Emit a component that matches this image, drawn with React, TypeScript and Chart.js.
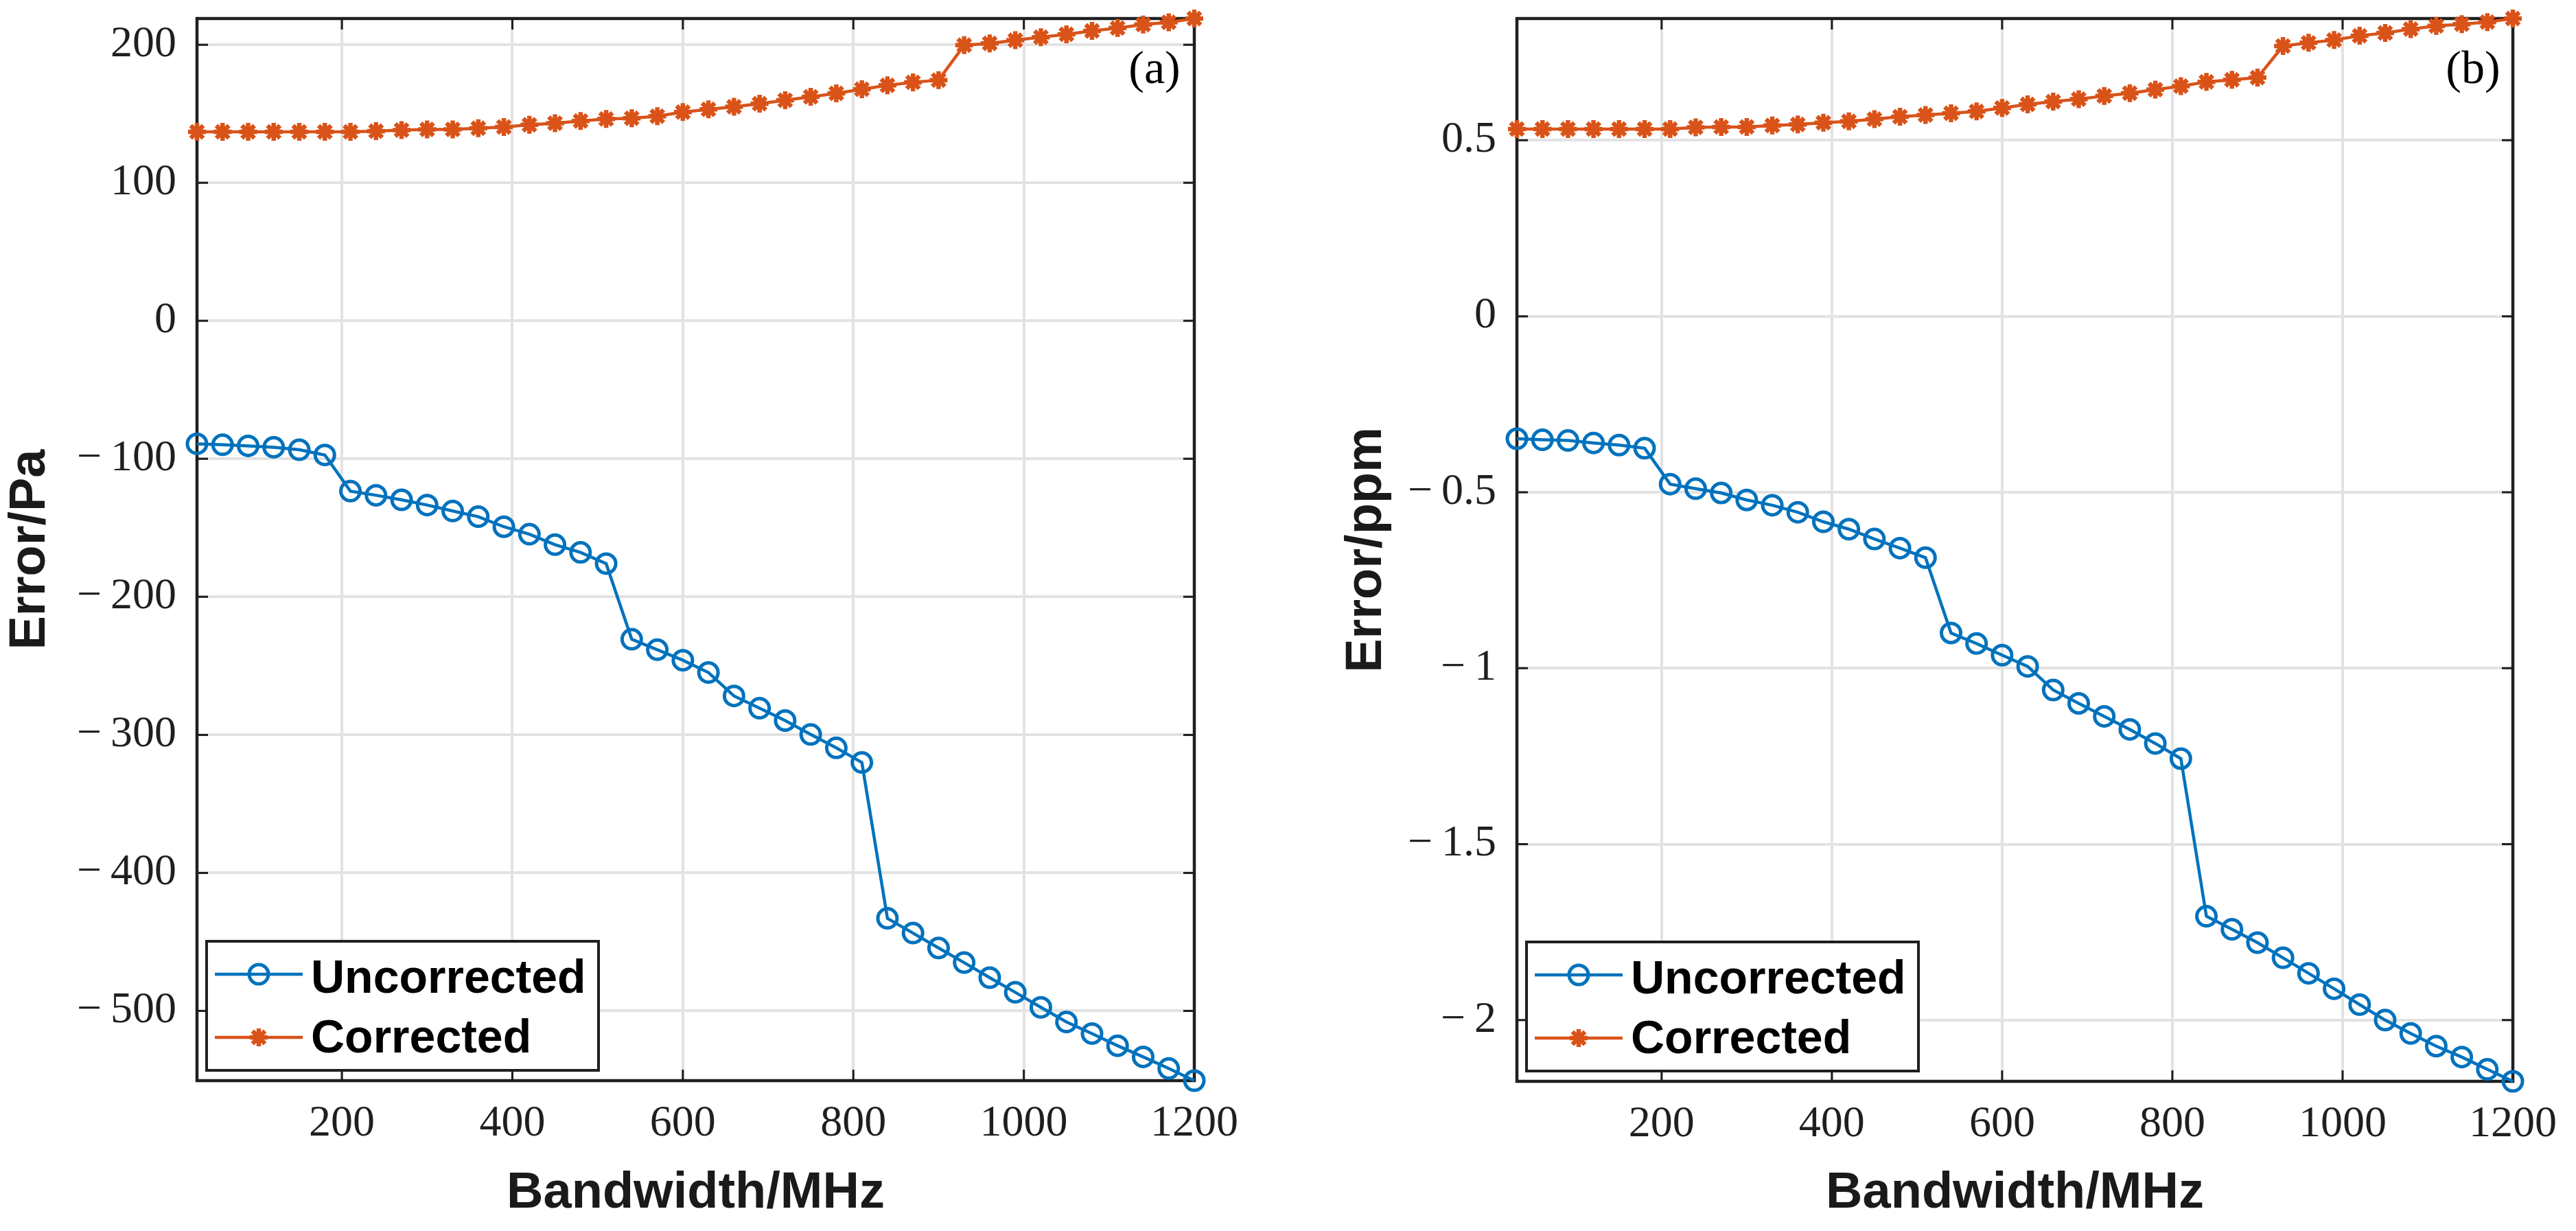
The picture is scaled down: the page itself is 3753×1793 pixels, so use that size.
import React, { useEffect, useRef } from 'react';
import { Chart, registerables } from 'chart.js';

Chart.register(...registerables);

// Sweep bandwidth (MHz)
const bandwidthMHz = [
  30, 60, 90, 120, 150, 180, 210, 240, 270, 300,
  330, 360, 390, 420, 450, 480, 510, 540, 570, 600,
  630, 660, 690, 720, 750, 780, 810, 840, 870, 900,
  930, 960, 990, 1020, 1050, 1080, 1110, 1140, 1170, 1200,
];

// (a) pressure error, Pa
const pressureUncorrected = [
  -89.1, -89.8, -90.6, -91.6, -93.4, -97.2, -123.4, -126.4, -129.7, -133.5,
  -137.8, -141.9, -149.2, -154.6, -162.2, -167.8, -175.9, -230.7, -238.3, -245.9,
  -254.8, -271.8, -280.7, -289.6, -299.7, -309.4, -320.0, -432.9, -443.6, -454.4,
  -465.0, -475.9, -486.5, -497.4, -508.0, -516.4, -525.2, -533.3, -541.7, -550.5,
];
const pressureCorrected = [
  136.9, 136.9, 136.9, 136.9, 136.9, 136.9, 136.9, 137.4, 138.2, 138.7,
  138.7, 139.5, 140.4, 142.0, 143.2, 144.8, 146.2, 146.8, 148.2, 151.2,
  153.2, 155.1, 157.3, 159.8, 162.3, 164.8, 167.8, 170.6, 172.8, 174.4,
  199.7, 201.0, 203.3, 205.5, 207.6, 210.0, 212.1, 214.6, 216.3, 219.0,
];

// (b) relative error, ppm
const ppmUncorrected = [
  -0.348, -0.351, -0.353, -0.360, -0.366, -0.375, -0.477, -0.490, -0.502, -0.522,
  -0.537, -0.557, -0.584, -0.605, -0.633, -0.659, -0.686, -0.900, -0.930, -0.963,
  -0.995, -1.062, -1.100, -1.137, -1.174, -1.214, -1.257, -1.705, -1.742, -1.780,
  -1.823, -1.867, -1.911, -1.956, -2.000, -2.038, -2.074, -2.105, -2.140, -2.174,
];
const ppmCorrected = [
  0.532, 0.532, 0.532, 0.532, 0.532, 0.532, 0.532, 0.537, 0.538, 0.538,
  0.542, 0.545, 0.550, 0.554, 0.560, 0.567, 0.572, 0.577, 0.582, 0.592,
  0.602, 0.610, 0.617, 0.626, 0.634, 0.644, 0.654, 0.666, 0.672, 0.678,
  0.768, 0.777, 0.785, 0.797, 0.805, 0.816, 0.825, 0.830, 0.836, 0.846,
];

const bandwidthTicks = [200, 400, 600, 800, 1000, 1200];
const pressureTicks = [-500, -400, -300, -200, -100, 0, 100, 200];
const ppmTicks = [-2, -1.5, -1, -0.5, 0, 0.5];

const seriesLabels = ['Uncorrected', 'Corrected'];

const BLUE = '#0072BD';
const ORANGE = '#D95319';
const INK = '#1f1f1f';
const GRID = '#e2e2e2';
const SERIF = '"Liberation Serif", "Times New Roman", serif';
const SANS = '"Liberation Sans", Arial, sans-serif';
const TICK_LEN = 16;

const fmtTick = (v: number) =>
  v < 0 ? '\u2212\u2009' + String(Math.abs(v)) : String(v);

function drawMarker(
  ctx: CanvasRenderingContext2D,
  style: string,
  x: number,
  y: number,
  r: number,
  lw: number,
  color: string
) {
  ctx.save();
  ctx.strokeStyle = color;
  ctx.lineWidth = lw;
  ctx.beginPath();
  if (style === 'circle') {
    ctx.arc(x, y, r, 0, Math.PI * 2);
  } else {
    for (let k = 0; k < 4; k++) {
      const a = (k * Math.PI) / 4;
      ctx.moveTo(x - r * Math.cos(a), y - r * Math.sin(a));
      ctx.lineTo(x + r * Math.cos(a), y + r * Math.sin(a));
    }
  }
  ctx.stroke();
  ctx.restore();
}

// Axes box with inward ticks on all four sides, legend box and panel tag.
const framePlugin = {
  id: 'frame',
  beforeDatasetsDraw(chart: any) {
    const { ctx, chartArea: ca, scales } = chart;
    ctx.save();
    ctx.strokeStyle = INK;
    ctx.lineWidth = 3;
    ctx.beginPath();
    scales.x.ticks.forEach((t: any) => {
      const px = scales.x.getPixelForValue(t.value);
      ctx.moveTo(px, ca.bottom);
      ctx.lineTo(px, ca.bottom - TICK_LEN);
      ctx.moveTo(px, ca.top);
      ctx.lineTo(px, ca.top + TICK_LEN);
    });
    scales.y.ticks.forEach((t: any) => {
      const py = scales.y.getPixelForValue(t.value);
      ctx.moveTo(ca.left, py);
      ctx.lineTo(ca.left + TICK_LEN, py);
      ctx.moveTo(ca.right, py);
      ctx.lineTo(ca.right - TICK_LEN, py);
    });
    ctx.stroke();
    ctx.lineWidth = 4.5;
    ctx.strokeRect(ca.left, ca.top, ca.right - ca.left, ca.bottom - ca.top);
    ctx.restore();
  },
  afterDraw(chart: any, _args: any, opts: any) {
    const { ctx, chartArea: ca } = chart;
    const bw = 571;
    const bh = 188;
    const bx = ca.left + 14;
    const by = ca.bottom - 15 - bh;
    ctx.save();
    ctx.fillStyle = '#ffffff';
    ctx.fillRect(bx, by, bw, bh);
    ctx.lineWidth = 4;
    ctx.strokeStyle = INK;
    ctx.strokeRect(bx, by, bw, bh);
    chart.data.datasets.forEach((ds: any, i: number) => {
      const ly = by + 48 + i * 92;
      const ty = by + 56 + i * 87;
      ctx.strokeStyle = ds.borderColor;
      ctx.lineWidth = ds.borderWidth;
      ctx.beginPath();
      ctx.moveTo(bx + 12, ly);
      ctx.lineTo(bx + 140, ly);
      ctx.stroke();
      drawMarker(ctx, ds.pointStyle, bx + 76, ly, ds.pointRadius, ds.pointBorderWidth, ds.borderColor);
      ctx.fillStyle = '#000000';
      ctx.font = `bold 68px ${SANS}`;
      ctx.textAlign = 'left';
      ctx.textBaseline = 'middle';
      ctx.fillText(ds.label, bx + 152, ty);
    });
    ctx.fillStyle = '#000000';
    ctx.font = `68px ${SERIF}`;
    ctx.textAlign = 'center';
    ctx.textBaseline = 'middle';
    ctx.fillText(opts.tag, ca.right - 58, ca.top + 76);
    ctx.restore();
  },
};

type PanelSpec = {
  padding: { left: number; right: number; top: number; bottom: number };
  yWidth: number;
  xHeight: number;
  yTitle: string;
  uncorrected: number[];
  corrected: number[];
  yTicks: number[];
  tag: string;
};

function buildConfig(p: PanelSpec): any {
  const all = [...p.uncorrected, ...p.corrected];
  return {
    type: 'line',
    data: {
      datasets: [
        {
          label: seriesLabels[0],
          data: bandwidthMHz.map((x, i) => ({ x, y: p.uncorrected[i] })),
          borderColor: BLUE,
          backgroundColor: 'rgba(0,0,0,0)',
          borderWidth: 4.5,
          pointStyle: 'circle',
          pointRadius: 14,
          pointBorderWidth: 5,
          pointBorderColor: BLUE,
          pointBackgroundColor: 'rgba(0,0,0,0)',
          clip: false,
        },
        {
          label: seriesLabels[1],
          data: bandwidthMHz.map((x, i) => ({ x, y: p.corrected[i] })),
          borderColor: ORANGE,
          backgroundColor: 'rgba(0,0,0,0)',
          borderWidth: 4.5,
          pointStyle: 'star',
          pointRadius: 13,
          pointBorderWidth: 6.5,
          pointBorderColor: ORANGE,
          pointBackgroundColor: ORANGE,
          clip: false,
        },
      ],
    },
    options: {
      responsive: false,
      animation: false,
      events: [],
      layout: { padding: p.padding },
      plugins: {
        legend: { display: false },
        tooltip: { enabled: false },
        frame: { tag: p.tag },
      },
      scales: {
        x: {
          type: 'linear',
          min: bandwidthMHz[0],
          max: bandwidthMHz[bandwidthMHz.length - 1],
          afterBuildTicks: (s: any) => {
            s.ticks = bandwidthTicks.map((v) => ({ value: v }));
          },
          afterFit: (s: any) => {
            s.height = p.xHeight;
            s.paddingLeft = 0;
            s.paddingRight = 0;
            s.paddingTop = 0;
            s.paddingBottom = 0;
          },
          grid: { color: GRID, lineWidth: 4, drawTicks: false },
          border: { display: false },
          ticks: {
            autoSkip: false,
            maxRotation: 0,
            padding: 25,
            color: INK,
            font: { family: SERIF, size: 64 },
            callback: (v: number) => fmtTick(v),
          },
          title: {
            display: true,
            text: 'Bandwidth/MHz',
            color: '#1a1a1a',
            font: { family: SANS, size: 74, weight: 'bold' },
            padding: { top: 0, bottom: 10 },
          },
        },
        y: {
          type: 'linear',
          min: Math.min(...all),
          max: Math.max(...all),
          afterBuildTicks: (s: any) => {
            s.ticks = p.yTicks.map((v) => ({ value: v }));
          },
          afterFit: (s: any) => {
            s.width = p.yWidth;
            s.paddingLeft = 0;
            s.paddingRight = 0;
            s.paddingTop = 0;
            s.paddingBottom = 0;
          },
          grid: { color: GRID, lineWidth: 4, drawTicks: false },
          border: { display: false },
          ticks: {
            autoSkip: false,
            padding: 30,
            color: INK,
            font: { family: SERIF, size: 64 },
            callback: (v: number) => fmtTick(v),
          },
          title: {
            display: true,
            text: p.yTitle,
            color: '#1a1a1a',
            font: { family: SANS, size: 74, weight: 'bold' },
            padding: { top: 0, bottom: 0 },
          },
        },
      },
    },
    plugins: [framePlugin],
  };
}

const panelA: PanelSpec = {
  padding: { left: 0, right: 130, top: 27, bottom: 0 },
  yWidth: 287,
  xHeight: 219,
  yTitle: 'Error/Pa',
  uncorrected: pressureUncorrected,
  corrected: pressureCorrected,
  yTicks: pressureTicks,
  tag: '(a)',
};

const panelB: PanelSpec = {
  padding: { left: 77, right: 92, top: 27, bottom: 0 },
  yWidth: 263,
  xHeight: 218,
  yTitle: 'Error/ppm',
  uncorrected: ppmUncorrected,
  corrected: ppmCorrected,
  yTicks: ppmTicks,
  tag: '(b)',
};

export default function App() {
  const refA = useRef<HTMLCanvasElement | null>(null);
  const refB = useRef<HTMLCanvasElement | null>(null);

  useEffect(() => {
    const charts: Chart[] = [];
    if (refA.current) charts.push(new Chart(refA.current, buildConfig(panelA)));
    if (refB.current) charts.push(new Chart(refB.current, buildConfig(panelB)));
    return () => charts.forEach((c) => c.destroy());
  }, []);

  return (
    <div
      style={{
        position: 'absolute',
        left: 0,
        top: 0,
        width: 3753,
        height: 1793,
        background: '#ffffff',
        overflow: 'hidden',
      }}
    >
      <canvas
        ref={refA}
        width={1870}
        height={1793}
        style={{ position: 'absolute', left: 0, top: 0, width: 1870, height: 1793 }}
      />
      <canvas
        ref={refB}
        width={1883}
        height={1793}
        style={{ position: 'absolute', left: 1870, top: 0, width: 1883, height: 1793 }}
      />
    </div>
  );
}
